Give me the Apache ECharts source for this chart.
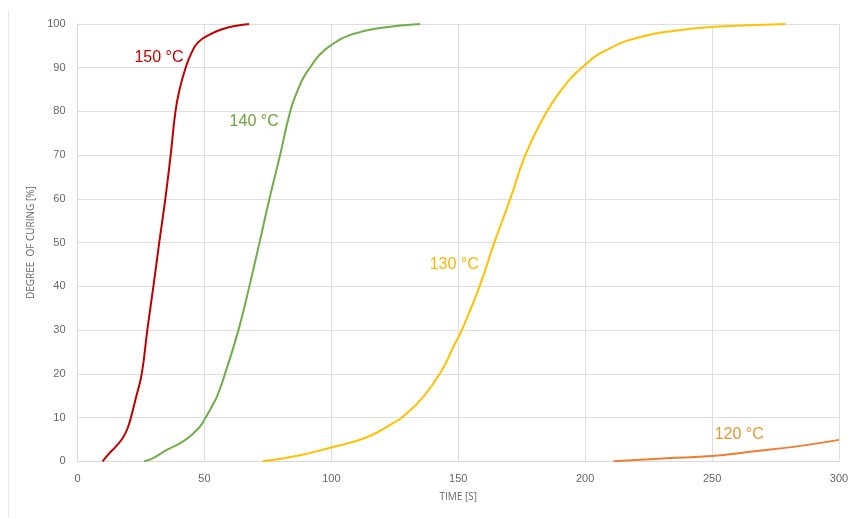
<!DOCTYPE html>
<html>
<head>
<meta charset="utf-8">
<script src="https://cdn.jsdelivr.net/npm/echarts@6/dist/echarts.min.js"></script>
<style>
  html, body { margin: 0; padding: 0; background: #fff; }
  #main { width: 852px; height: 518px; }
</style>
</head>
<body>
<div id="main"></div>
<script>
// curing curves, [time s, degree %]
const curve150 = [[9.9,0],[12.5,1.8],[15,3.3],[18,5.5],[20,8],[21.5,11],[23,14.5],[25.3,20],[27.5,30],[29.9,40],[32.2,50],[34.6,60],[36.7,70],[38.6,80],[40.2,85],[42.6,90],[45,93.5],[47.5,95.8],[52.2,97.6],[57,98.8],[61.4,99.5],[67.6,100]];
const curve140 = [[26.3,0],[30,0.8],[35.2,2.6],[40,4],[43,5.1],[46,6.6],[48.3,8],[50.5,10],[53,12.6],[55.3,15.3],[58.1,20],[63.4,30],[67.7,40],[71.7,50],[75.6,60],[79.8,70],[83.8,80],[86.5,84.5],[88.9,87.6],[91.6,90],[95,92.7],[99.5,95],[107.4,97.5],[119.2,99.1],[135,100]];
const curve130 = [[73,0],[87.7,1.4],[100.2,3.2],[114,5.5],[124.5,8.8],[127.8,10],[136.3,14.8],[143.6,20.9],[148.1,26.2],[151.4,30],[158.4,40],[164.2,50],[170.5,60],[176.4,70],[183,78],[190.2,84.6],[200,90.7],[209.9,94.5],[223,97.2],[236.2,98.5],[250,99.3],[265,99.7],[278.9,100]];
const curve120 = [[211.2,0],[232.2,0.7],[250,1.2],[265,2.2],[282.1,3.3],[300,4.9]];

const names = ['150 °C', '140 °C', '130 °C', '120 °C'];
const lineColors = ['#c00000', '#70ad47', '#ffc000', '#ed7d31'];
const labelColors = ['#c00000', '#70a040', '#f2b800', '#e8962e'];
// where each curve label sits (data coords)
const labelAt = [[32.1, 92.3], [69.6, 77.7], [148.4, 44.9], [260.7, 6.0]];
const curves = [curve150, curve140, curve130, curve120];

const chart = echarts.init(document.getElementById('main'));

const series = curves.map((c, i) => ({
  name: names[i],
  type: 'line',
  data: c,
  smooth: 0.5,
  showSymbol: false,
  lineStyle: { color: lineColors[i], width: 2 },
  animation: false,
  markPoint: {
    symbol: 'circle',
    symbolSize: 0,
    silent: true,
    data: [{ coord: labelAt[i] }],
    label: {
      show: true,
      formatter: names[i],
      position: 'inside',
      color: labelColors[i],
      fontSize: 16,
      fontFamily: 'Liberation Sans, Arial, sans-serif'
    }
  }
}));

const axisFont = { color: '#666', fontSize: 11, fontFamily: 'Liberation Sans, Arial, sans-serif' };

chart.setOption({
  animation: false,
  grid: { left: 77.5, right: 13, top: 24, bottom: 56.7 },
  xAxis: {
    type: 'value',
    min: 0, max: 300, interval: 50,
    name: 'TIME [S]',
    nameLocation: 'middle',
    nameGap: 31,
    nameTextStyle: { color: '#666', fontSize: 10, fontFamily: 'Open Sans, sans-serif' },
    axisLine: { lineStyle: { color: '#d9d9d9' } },
    axisTick: { show: false },
    axisLabel: Object.assign({ margin: 12 }, axisFont),
    splitLine: { show: true, lineStyle: { color: '#dedede' } }
  },
  yAxis: {
    type: 'value',
    min: 0, max: 100, interval: 10,
    name: 'DEGREE  OF CURING [%]',
    nameLocation: 'middle',
    nameGap: 38,
    nameTextStyle: { color: '#666', fontSize: 10, fontFamily: 'Open Sans, sans-serif' },
    axisLine: { show: true, lineStyle: { color: '#d9d9d9' } },
    axisTick: { show: false },
    axisLabel: Object.assign({ margin: 12 }, axisFont),
    splitLine: { show: true, lineStyle: { color: '#dedede' } }
  },
  graphic: [{
    type: 'line',
    shape: { x1: 8.5, y1: 10, x2: 8.5, y2: 518 },
    style: { stroke: '#e8e8e8', lineWidth: 1 }
  }],
  series: series
});
</script>
</body>
</html>
